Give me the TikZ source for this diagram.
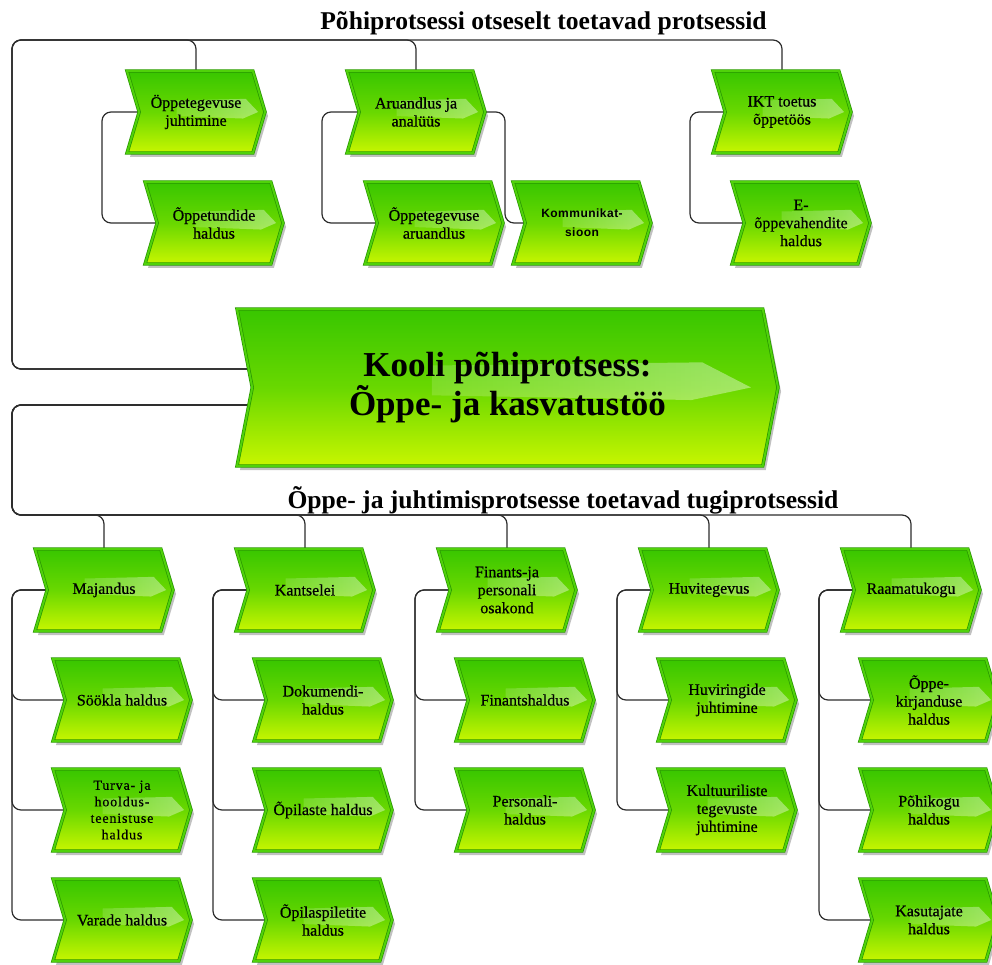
\documentclass[tikz,border=0pt]{standalone}
\usepackage{fontspec}
\setmainfont{Liberation Serif}
\newfontfamily\labelsans{Liberation Sans}
\usetikzlibrary{shapes.symbols,shadows,fadings,calc}
\pgfdeclarelayer{background}
\pgfsetlayers{background,main}

\definecolor{gTop}{RGB}{56,198,0}
\definecolor{gMid}{RGB}{105,216,0}
\definecolor{gBot}{RGB}{200,246,0}
\definecolor{gEdge}{RGB}{40,150,0}
\definecolor{gBand}{RGB}{80,210,10}
\definecolor{wire}{RGB}{45,45,45}

\newcommand\chevfont{\fontsize{16}{18}\selectfont\addfontfeature{FakeBold=0.5}}
\newcommand\bigchevfont{\fontsize{35}{38.5}\selectfont\bfseries}
\newcommand\headfont{\fontsize{25.6}{28}\selectfont\bfseries}

\tikzset{
  gloss/.style={fill=white, opacity=.42, path fading=west},
  % glossy streak drawn inside the box, underneath its text
  glossy/.style={path picture={
    \fill[gloss] let \p1=(path picture bounding box.south west),
                     \p2=(path picture bounding box.north east) in
      ({\x1+0.36*(\x2-\x1)},{\y1+0.64*(\y2-\y1)}) --
      ({\x1+0.86*(\x2-\x1)},{\y1+0.66*(\y2-\y1)}) --
      ({\x1+0.95*(\x2-\x1)},{\y1+0.50*(\y2-\y1)}) --
      ({\x1+0.84*(\x2-\x1)},{\y1+0.42*(\y2-\y1)}) --
      ({\x1+0.36*(\x2-\x1)},{\y1+0.45*(\y2-\y1)}) -- cycle;}},
  chev/.style={signal, signal to=east, signal from=west,
    signal pointer angle=147,
    minimum width=138pt, minimum height=82pt, inner sep=0pt,
    align=center, font=\chevfont, text=black,
    top color=gTop, bottom color=gBot, middle color=gMid,
    draw=gEdge, line width=0.7pt, double=gBand, double distance=2pt,
    drop shadow={shadow xshift=3pt, shadow yshift=-4pt, opacity=0.35, fill=black!70},
    glossy},
  bigchev/.style={chev, signal pointer angle=158,
    minimum width=541pt, minimum height=157pt, font=\bigchevfont},
  conn/.style={draw=wire, line width=1.2pt, rounded corners=9pt},
  head/.style={font=\headfont, anchor=base, inner sep=0pt}
}

\begin{document}
\begin{tikzpicture}[x=1pt,y=-1pt]
\clip (0,0) rectangle (992,965);

% headings
\node[head] (headTop) at (543.5,30) {Põhiprotsessi otseselt toetavad protsessid};
\node[head] (headBot) at (563,508) {Õppe- ja juhtimisprotsesse toetavad tugiprotsessid};

% main process
\node[bigchev] (big) at (507.5,387.5) {Kooli põhiprotsess:\\Õppe- ja kasvatustöö};

% processes directly supporting the main process
\node[chev] (a1) at (196,112) {Öppetegevuse\\juhtimine};
\node[chev] (a2) at (214,223) {Õppetundide\\haldus};
\node[chev] (b1) at (416,112) {Aruandlus ja\\analüüs};
\node[chev] (b2) at (434,223) {Õppetegevuse\\aruandlus};
\node[chev, font={\labelsans\bfseries\fontsize{12}{19}\selectfont\addfontfeature{LetterSpace=4}}] (b3) at (582,223) {Kommunikat-\\sioon};
\node[chev] (c1) at (782,112) {IKT toetus\\õppetöös};
\node[chev] (c2) at (801,223) {E-\\õppevahendite\\haldus};

% support processes
\node[chev] (m1) at (104,590) {Majandus};
\node[chev] (m2) at (122,700) {Söökla haldus};
\node[chev, font={\fontsize{14}{16.5}\selectfont\addfontfeature{LetterSpace=6,FakeBold=0.4}}] (m3) at (122,810) {Turva- ja\\hooldus-\\teenistuse\\haldus};
\node[chev] (m4) at (122,920) {Varade haldus};

\node[chev] (k1) at (305,590) {Kantselei};
\node[chev] (k2) at (323,700) {Dokumendi-\\haldus};
\node[chev] (k3) at (323,810) {Õpilaste haldus};
\node[chev] (k4) at (323,920) {Õpilaspiletite\\haldus};

\node[chev] (f1) at (507,590) {Finants-ja\\personali\\osakond};
\node[chev] (f2) at (525,700) {Finantshaldus};
\node[chev] (f3) at (525,810) {Personali-\\haldus};

\node[chev] (h1) at (709,590) {Huvitegevus};
\node[chev] (h2) at (727,700) {Huviringide\\juhtimine};
\node[chev] (h3) at (727,810) {Kultuuriliste\\tegevuste\\juhtimine};

\node[chev] (r1) at (911,590) {Raamatukogu};
\node[chev] (r2) at (929,700) {Õppe-\\kirjanduse\\haldus};
\node[chev] (r3) at (929,810) {Põhikogu\\haldus};
\node[chev] (r4) at (929,920) {Kasutajate\\haldus};

\begin{pgfonlayer}{background}
  % upper tree
  \draw[conn] ([yshift=18.5pt]big.center) -| (12,40) -| (a1.center);
  \draw[conn] ([yshift=18.5pt]big.center) -| (12,40) -| (b1.center);
  \draw[conn] ([yshift=18.5pt]big.center) -| (12,40) -| (c1.center);
  \draw[conn] (a1.center) -| (102,170) |- (a2.center);
  \draw[conn] (b1.center) -| (322,170) |- (b2.center);
  \draw[conn] (b1.center) -| (505,170) |- (b3.center);
  \draw[conn] (c1.center) -| (690,170) |- (c2.center);
  % lower tree
  \draw[conn] ([yshift=-17.5pt]big.center) -| (12,515) -| (m1.center);
  \draw[conn] ([yshift=-17.5pt]big.center) -| (12,515) -| (k1.center);
  \draw[conn] ([yshift=-17.5pt]big.center) -| (12,515) -| (f1.center);
  \draw[conn] ([yshift=-17.5pt]big.center) -| (12,515) -| (h1.center);
  \draw[conn] ([yshift=-17.5pt]big.center) -| (12,515) -| (r1.center);
  \foreach \c in {m2,m3,m4} \draw[conn] (m1.center) -| (12,650) |- (\c.center);
  \foreach \c in {k2,k3,k4} \draw[conn] (k1.center) -| (213,650) |- (\c.center);
  \foreach \c in {f2,f3} \draw[conn] (f1.center) -| (415,650) |- (\c.center);
  \foreach \c in {h2,h3} \draw[conn] (h1.center) -| (617,650) |- (\c.center);
  \foreach \c in {r2,r3,r4} \draw[conn] (r1.center) -| (819,650) |- (\c.center);
\end{pgfonlayer}
\end{tikzpicture}
\end{document}
